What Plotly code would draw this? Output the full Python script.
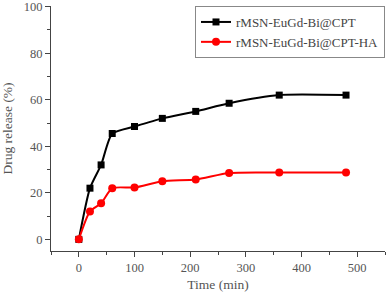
import plotly.graph_objects as go

time_min = [0, 20, 40, 60, 100, 150, 210, 270, 360, 480]
release_cpt = [0, 22, 32, 45.5, 48.5, 52, 55, 58.5, 62, 62]
release_cpt_ha = [0, 12, 15.5, 22, 22.3, 25, 25.7, 28.5, 28.7, 28.7]
series_names = ["rMSN-EuGd-Bi@CPT", "rMSN-EuGd-Bi@CPT-HA"]

font = "Liberation Serif"
text_color = "#555"

fig = go.Figure()
fig.add_trace(go.Scatter(
    x=time_min, y=release_cpt, name=series_names[0],
    mode="lines+markers", line=dict(color="black", width=2, shape="spline", smoothing=0.6),
    marker=dict(symbol="square", size=7, color="black")))
fig.add_trace(go.Scatter(
    x=time_min, y=release_cpt_ha, name=series_names[1],
    mode="lines+markers", line=dict(color="red", width=2, shape="spline", smoothing=0.6),
    marker=dict(symbol="circle", size=8, color="red")))

axis_common = dict(showline=True, linecolor="#444", linewidth=1, ticks="outside",
                   ticklen=5, tickcolor="#444", showgrid=False, zeroline=False,
                   automargin=False, ticklabeloverflow="allow",
                   tickfont=dict(family=font, size=12.5, color=text_color))

fig.update_layout(
    width=387, height=293,
    margin=dict(l=51, r=2, t=6, b=42),
    paper_bgcolor="white", plot_bgcolor="white",
    font=dict(family=font, color=text_color),
    showlegend=True,
    legend=dict(x=1.0, y=1.0, xanchor="right", yanchor="top",
                bordercolor="#888", borderwidth=1, bgcolor="white",
                font=dict(family=font, size=13, color="#444"),
                tracegroupgap=0, itemwidth=30),
    xaxis=dict(range=[-50, 550], tickvals=[0, 100, 200, 300, 400, 500],
               minor=dict(ticks="outside", ticklen=3, dtick=50, tick0=0, tickcolor="#444"),
               title=dict(text="Time (min)", font=dict(family=font, size=13.5, color=text_color), standoff=5),
               **axis_common),
    yaxis=dict(range=[-5, 100.3], tickvals=[0, 20, 40, 60, 80, 100],
               minor=dict(ticks="outside", ticklen=3, dtick=10, tick0=0, tickcolor="#444"),
               title=dict(text="Drug release (%)", font=dict(family=font, size=13.5, color=text_color), standoff=10),
               **axis_common),
)

fig.write_html("out.html",
               config={"displayModeBar": False},
               post_script="document.body.style.margin='0';document.body.style.padding='0';")
